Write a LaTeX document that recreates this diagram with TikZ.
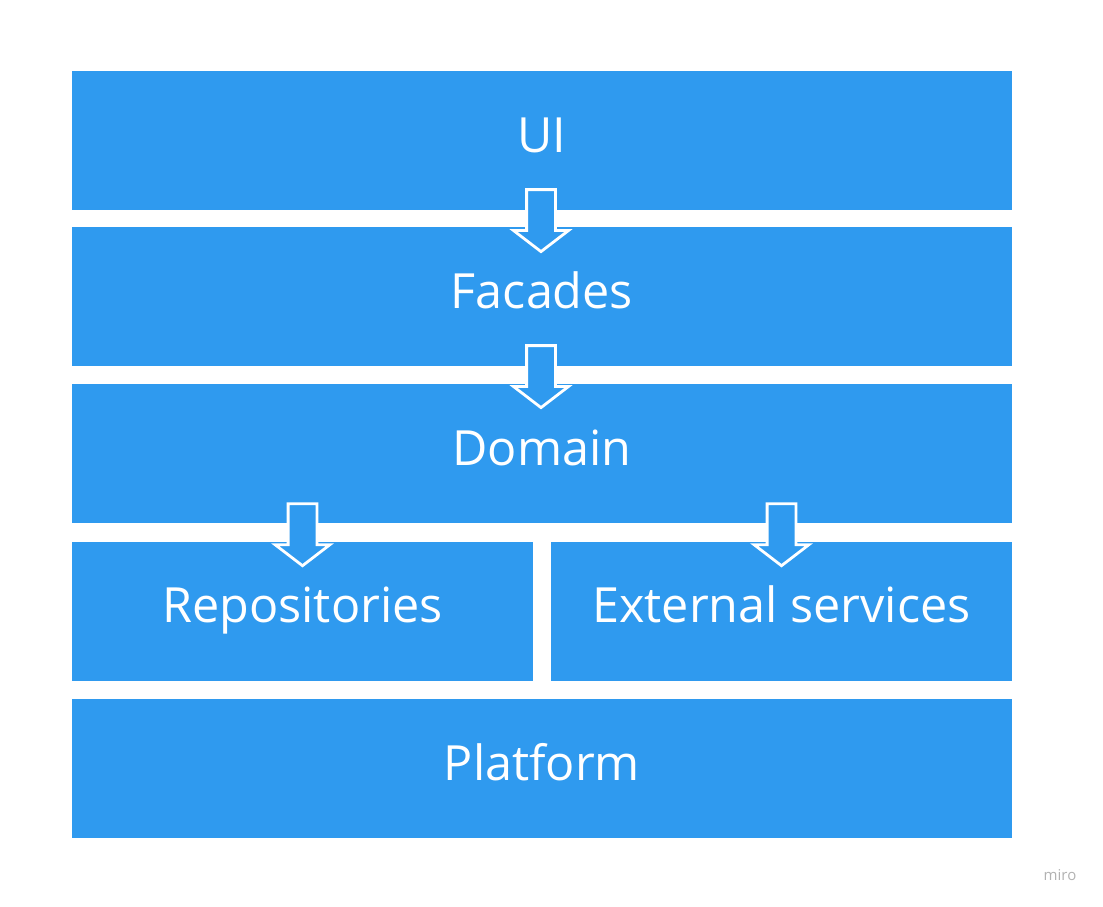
\documentclass[tikz,border=0pt]{standalone}
\usepackage{fontspec}
\setmainfont{Open Sans}
\usepackage{tikz}
\usetikzlibrary{calc,positioning,shapes.arrows}
\definecolor{layerblue}{RGB}{47,154,239}

\begin{document}
\begin{tikzpicture}[x=1pt,y=-1pt,
	layer/.style={fill=layerblue,text=white,inner sep=0pt,minimum height=139pt,text height=35pt,text depth=12pt,font=\fontsize{48.5}{52}\selectfont},
	down/.style={single arrow,shape border rotate=270,anchor=tail,fill=layerblue,draw=white,line width=2.8pt,inner sep=13pt,minimum height=62pt,single arrow head extend=13pt,single arrow tip angle=105}]
	\useasboundingbox (0,0) rectangle (1103,906);
	\node[layer,minimum width=940pt] (ui) at (542,140.5) {UI};
	\node[layer,minimum width=940pt] (fac) at (542,296.5) {Facades};
	\node[layer,minimum width=940pt] (dom) at (542,453.5) {Domain};
	\node[layer,minimum width=461pt] (rep) at (302.5,611) {Repositories};
	\node[layer,minimum width=461pt] (ext) at (781.5,611) {External services};
	\node[layer,minimum width=940pt] (plat) at (542,768.5) {Platform};
	
	\node[down] (d1) at ([xshift=-1pt,yshift=22pt]ui.south) {};
	\node[down] (d2) at ([xshift=-1pt,yshift=22pt]fac.south) {};
	\node[down] (d3) at ([yshift=39pt]rep.north) {};
	\node[down] (d4) at ([yshift=39pt]ext.north) {};
	
	\node[text=black!30,font=\fontsize{15}{18}\selectfont] (miro) at (1060,875) {miro};
\end{tikzpicture}
\end{document}
